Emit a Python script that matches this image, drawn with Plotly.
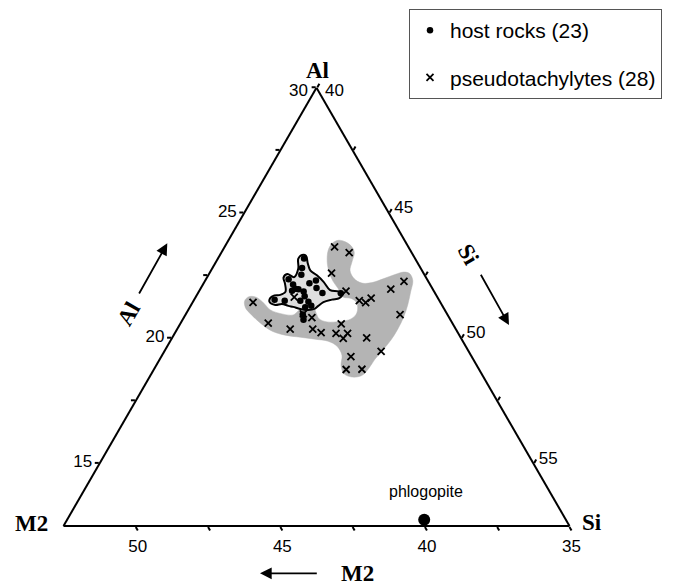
import plotly.graph_objects as go

W, H = 674, 586

# Zoomed ternary corner: Al + Si + M2 normalised to 105
TERNARY_SUM = 105
AL_MIN, M2_MIN, SI_MIN = 12.5, 35, 40

al_tickvals = [15, 17.5, 20, 22.5, 25, 27.5, 30]
al_ticktext = ["15", "", "20", "", "25", "", ""]
si_tickvals = [40, 42.5, 45, 47.5, 50, 52.5, 55]
si_ticktext = ["", "", "45", "", "50", "", "55"]
m2_tickvals = [35, 37.5, 40, 42.5, 45, 47.5, 50]
m2_ticktext = ["35", "", "40", "", "45", "", "50"]
apex_labels = ["30", "40"]   # Al max / Si min, written beside the apex

# Host rock analyses
host_al = [23.18, 22.80, 22.53, 22.35, 22.30, 22.19, 22.14, 21.97, 21.95, 21.89, 21.87, 22.00,
           21.81, 21.68, 21.54, 21.50, 21.50, 21.46, 21.30, 21.24, 20.95, 20.74, 21.80]
host_si = [42.98, 43.10, 43.21, 42.86, 43.83, 43.66, 43.12, 43.28, 43.40, 43.21, 43.62, 44.00,
           44.30, 43.75, 42.78, 43.15, 43.69, 43.99, 44.17, 43.99, 44.05, 44.18, 44.94]
host_m2 = [38.84, 39.10, 39.26, 39.79, 38.87, 39.15, 39.74, 39.75, 39.65, 39.90, 39.51, 39.00,
           38.89, 39.57, 40.68, 40.35, 39.81, 39.55, 39.53, 39.77, 40.00, 40.08, 38.26]

# Pseudotachylyte analyses
pst_al = [23.65, 23.42, 22.60, 21.88, 21.50, 21.42, 21.60, 21.96, 22.27, 20.94, 21.43, 21.64,
          20.97, 20.82, 20.60, 20.36, 20.36, 20.22, 20.57, 20.19, 20.19, 19.99, 20.01, 19.47,
          19.26, 18.75, 18.76]
pst_si = [43.80, 44.42, 44.22, 45.08, 45.73, 45.99, 46.09, 46.59, 46.89, 47.42, 42.09, 43.41,
          44.06, 44.43, 43.03, 43.91, 44.69, 45.05, 45.57, 45.58, 45.98, 45.93, 46.73, 47.50,
          46.56, 46.65, 47.19]
pst_m2 = [37.55, 37.16, 38.18, 38.04, 37.77, 37.59, 37.31, 36.45, 35.84, 36.64, 41.48, 39.95,
          39.97, 39.75, 41.37, 40.73, 39.95, 39.73, 38.86, 39.23, 38.83, 39.08, 38.26, 38.03,
          39.18, 39.60, 39.05]

# Outline of the pseudotachylyte field (shaded)
pfield_al = [20.97, 20.93, 21.09, 21.33, 21.17, 21.01, 20.77, 20.65, 20.67, 20.77, 21.01, 21.41,
             21.59, 21.65, 21.98, 22.26, 22.62, 23.06, 23.51, 23.79, 23.91, 23.85, 23.69, 23.43,
             23.06, 22.70, 22.38, 22.20, 22.22, 22.38, 22.54, 22.64, 22.58, 22.30, 21.85, 21.33,
             20.85, 20.36, 19.92, 19.52, 19.16, 18.79, 18.51, 18.45, 18.59, 18.92, 19.32, 19.68,
             19.88, 19.96, 20.04, 20.12, 20.28, 20.57, 20.93, 21.21, 21.49, 21.65, 21.65, 21.45,
             21.13]
pfield_si = [43.32, 43.73, 43.82, 43.95, 44.34, 44.48, 44.71, 45.04, 45.48, 45.81, 45.89, 45.69,
             45.40, 45.09, 44.76, 44.45, 44.13, 43.84, 43.65, 43.65, 43.80, 44.07, 44.35, 44.59,
             44.70, 44.81, 45.11, 45.47, 45.81, 46.14, 46.44, 46.70, 46.93, 47.18, 47.33, 47.49,
             47.59, 47.63, 47.61, 47.53, 47.44, 47.41, 47.31, 47.00, 46.65, 46.39, 46.22, 45.87,
             45.46, 44.97, 44.42, 43.86, 43.33, 42.81, 42.29, 41.94, 41.77, 41.82, 42.06, 42.41,
             42.84]
pfield_m2 = [40.71, 40.34, 40.09, 39.72, 39.49, 39.51, 39.52, 39.31, 38.85, 38.42, 38.10, 37.90,
             38.01, 38.26, 38.26, 38.29, 38.25, 38.10, 37.84, 37.56, 37.29, 37.08, 36.96, 36.98,
             37.24, 37.49, 37.51, 37.33, 36.97, 36.48, 36.02, 35.66, 35.49, 35.52, 35.82, 36.18,
             36.56, 37.01, 37.47, 37.95, 38.40, 38.80, 39.18, 39.55, 39.76, 39.69, 39.46, 39.45,
             39.66, 40.07, 40.54, 41.02, 41.39, 41.62, 41.78, 41.85, 41.74, 41.53, 41.29, 41.14,
             41.03]

# Outline of the host rock field
hfield_al = [21.45, 21.61, 21.71, 21.73, 21.85, 22.18, 22.42, 22.56, 22.44, 22.78, 23.18, 23.32,
             23.29, 22.98, 22.71, 22.51, 22.25, 21.92, 21.87, 21.77, 21.60, 21.54, 21.44, 21.28,
             21.17, 21.13, 21.17, 21.25, 21.29, 21.37, 21.33]
hfield_si = [42.65, 42.60, 42.69, 42.88, 43.00, 42.82, 42.65, 42.71, 43.01, 42.98, 42.78, 42.84,
             42.99, 43.21, 43.43, 43.76, 44.12, 44.51, 44.82, 45.01, 44.99, 44.76, 44.52, 44.41,
             44.34, 44.15, 43.85, 43.57, 43.38, 43.12, 42.91]
hfield_m2 = [40.90, 40.79, 40.60, 40.39, 40.15, 40.00, 39.93, 39.73, 39.55, 39.24, 39.04, 38.84,
             38.72, 38.81, 38.86, 38.73, 38.63, 38.57, 38.31, 38.22, 38.41, 38.70, 39.04, 39.31,
             39.49, 39.72, 39.98, 40.18, 40.33, 40.51, 40.76]

# Reference mineral
phl_al = [12.75]
phl_si = [52.35]
phl_m2 = [39.90]
phl_label = "phlogopite"

SANS = "Liberation Sans, Arial, sans-serif"
SERIF = "Liberation Serif, Times New Roman, serif"


def closed(v):
    return list(v) + [v[0]]


fig = go.Figure()

fig.add_trace(go.Scatterternary(
    a=closed(pfield_al), b=closed(pfield_m2), c=closed(pfield_si),
    mode="lines", fill="toself", fillcolor="#b4b4b4",
    line=dict(color="#b4b4b4", width=0.5, shape="spline", smoothing=1),
    showlegend=False, hoverinfo="skip",
))
fig.add_trace(go.Scatterternary(
    a=closed(hfield_al), b=closed(hfield_m2), c=closed(hfield_si),
    mode="lines", fill="toself", fillcolor="#dedede",
    line=dict(color="black", width=2, shape="spline", smoothing=1),
    showlegend=False, hoverinfo="skip",
))
fig.add_trace(go.Scatterternary(
    a=host_al, b=host_m2, c=host_si, mode="markers",
    name="host rocks (23)", legendgroup="host",
    marker=dict(symbol="circle", size=6.5, color="black"),
))
fig.add_trace(go.Scatterternary(
    a=pst_al, b=pst_m2, c=pst_si, mode="markers",
    name="pseudotachylytes (28)", legendgroup="pst",
    marker=dict(symbol="x-thin", size=7, color="black",
                line=dict(color="black", width=1.8)),
))
fig.add_trace(go.Scatterternary(
    a=phl_al, b=phl_m2, c=phl_si, mode="markers",
    marker=dict(symbol="circle", size=12, color="black"),
    showlegend=False, hoverinfo="skip",
))


def axis(minv, tickvals, ticktext):
    return dict(
        min=minv, tickmode="array", tickvals=tickvals, ticktext=ticktext,
        ticks="outside", ticklen=4, tickwidth=1.5, tickcolor="black",
        tickfont=dict(family=SANS, size=17, color="black"),
        showgrid=False, showline=True, linecolor="black", linewidth=2,
        title=dict(text=""),
    )


def px(x, y):
    return x / W, 1 - y / H


# Triangle placement on the page
tri_left, tri_right, tri_base, tri_top = 63.5, 569.5, 526.0, 87.8

annotations = []


def label(x, y, text, size=23, angle=0, family=SERIF):
    xp, yp = px(x, y)
    annotations.append(dict(
        x=xp, y=yp, xref="paper", yref="paper", text=text, showarrow=False,
        textangle=angle, font=dict(family=family, size=size, color="black"),
        xanchor="center", yanchor="middle",
    ))


def arrow(x_tail, y_tail, x_tip, y_tip):
    xp, yp = px(x_tip, y_tip)
    annotations.append(dict(
        x=xp, y=yp, xref="paper", yref="paper", text="",
        ax=x_tail - x_tip, ay=y_tail - y_tip, axref="pixel", ayref="pixel",
        showarrow=True, arrowhead=2, arrowsize=1.3, arrowwidth=1.8,
        arrowcolor="black", standoff=0, startstandoff=0,
    ))


# vertex names
label(317, 70, "<b>Al</b>")
label(31, 523, "<b>M2</b>")
label(592, 522, "<b>Si</b>")
# apex tick values
label(298, 90, apex_labels[0], size=17, family=SANS)
label(334, 90, apex_labels[1], size=17, family=SANS)
# direction indicators
label(128, 314, "<b>Al</b>", angle=-60)
label(468, 255, "<b>Si</b>", angle=60)
label(357, 573, "<b>M2</b>")
arrow(138.3, 295, 167.3, 243.3)
arrow(480, 273.3, 509, 325)
arrow(318.3, 573.3, 260, 573.3)
# mineral name above its marker
label(426, 492, phl_label, size=16, family=SANS)

fig.update_layout(
    width=W, height=H,
    margin=dict(l=0, r=0, t=0, b=0),
    paper_bgcolor="white",
    ternary=dict(
        sum=TERNARY_SUM,
        domain=dict(x=[tri_left / W, tri_right / W],
                    y=[1 - tri_base / H, 1 - tri_top / H]),
        bgcolor="white",
        aaxis=axis(AL_MIN, al_tickvals, al_ticktext),
        baxis=axis(M2_MIN, m2_tickvals, m2_ticktext),
        caxis=axis(SI_MIN, si_tickvals, si_ticktext),
    ),
    showlegend=True,
    legend=dict(
        x=409 / W, y=1 - 9 / H, xanchor="left", yanchor="top",
        bgcolor="white", bordercolor="#555555", borderwidth=1,
        font=dict(family=SANS, size=21, color="black"),
        traceorder="grouped", tracegroupgap=17,
    ),
    annotations=annotations,
)

fig.write_html("out.html")
